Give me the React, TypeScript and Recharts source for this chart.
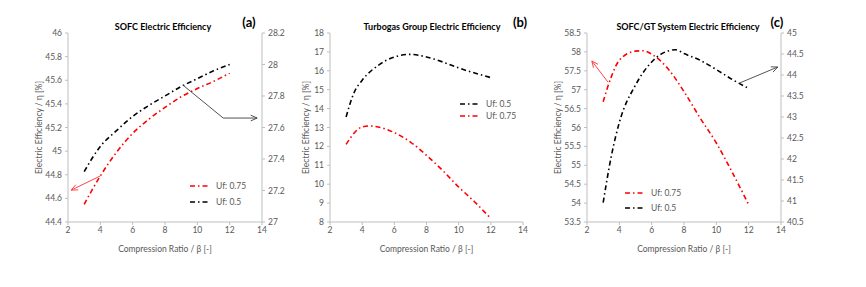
import React from "react";
import { LineChart, Line, XAxis, YAxis, ReferenceLine, Legend } from "recharts";

// compression ratio ticks shared by the three panels
const betaTicks = [2, 4, 6, 8, 10, 12, 14];

// (a) SOFC electric efficiency
const sofcBeta = [3, 4, 5, 6, 7, 8, 9, 10, 11, 12];
const sofcUf075 = [44.55, 44.79, 44.99, 45.15, 45.27, 45.37, 45.46, 45.53, 45.59, 45.66];
const sofcUf05 = [27.32, 27.48, 27.58, 27.67, 27.74, 27.8, 27.86, 27.91, 27.96, 28.0];
const sofcLeftTicks = [44.4, 44.6, 44.8, 45, 45.2, 45.4, 45.6, 45.8, 46];
const sofcRightTicks = [27, 27.2, 27.4, 27.6, 27.8, 28, 28.2];

// (b) turbogas group electric efficiency
const tgBeta05 = [3, 3.5, 4, 5, 6, 7, 8, 9, 10, 11, 12];
const tgUf05 = [13.56, 14.85, 15.5, 16.29, 16.73, 16.87, 16.73, 16.47, 16.15, 15.88, 15.64];
const tgBeta075 = [3, 4, 4.5, 5, 6, 7, 8, 9, 10, 11, 12];
const tgUf075 = [12.11, 13.03, 13.08, 13.03, 12.73, 12.23, 11.53, 10.73, 9.85, 9.06, 8.18];
const tgTicks = [8, 9, 10, 11, 12, 13, 14, 15, 16, 17, 18];

// (c) SOFC/GT system electric efficiency
const sysBeta075 = [3, 3.5, 4, 5, 5.5, 6, 7, 8, 9, 10, 11, 12];
const sysUf075 = [56.68, 57.34, 57.78, 58.02, 58.03, 57.94, 57.56, 56.95, 56.25, 55.59, 54.8, 53.96];
const sysBeta05 = [3, 3.5, 4, 5, 6, 7, 7.5, 8, 9, 10, 11, 12];
const sysUf05 = [40.96, 42.06, 42.87, 43.76, 44.31, 44.57, 44.6, 44.51, 44.35, 44.13, 43.89, 43.68];
const sysLeftTicks = [53.5, 54, 54.5, 55, 55.5, 56, 56.5, 57, 57.5, 58, 58.5];
const sysRightTicks = [40.5, 41, 41.5, 42, 42.5, 43, 43.5, 44, 44.5, 45];

const RED = "#ff0000";
const BLACK = "#000000";
const GREY = "#595959";
const AXIS = "#bfbfbf";
const DASH = "5 3 1.5 3";
const FONT = "Lato, 'Open Sans', sans-serif";

const rows = (beta: number[], vals: number[]) =>
  beta.map((b, i) => ({ beta: b, eta: vals[i] }));

const fmt = (v: number) => String(Math.round(v * 10) / 10);

const tickStyle = { fontSize: 8.5, fill: GREY };

const xAxisProps = {
  type: "number" as const,
  dataKey: "beta",
  domain: [2, 14],
  ticks: betaTicks,
  interval: 0 as const,
  height: 30,
  tick: tickStyle,
  tickSize: 3,
  tickMargin: 2,
  stroke: AXIS,
  label: {
    value: "Compression Ratio / β [-]",
    position: "insideBottom" as const,
    offset: 0,
    fontSize: 8.5,
    fill: GREY,
  },
};

const yLabel = (x: number) => (props: any) => {
  const vb = props.viewBox || {};
  const cy = vb.height ? vb.y + vb.height / 2 : 127.5;
  return (
    <text
      x={x}
      y={cy}
      transform={`rotate(-90 ${x} ${cy})`}
      textAnchor="middle"
      dominantBaseline="central"
      fontSize={8.5}
      fill={GREY}
    >
      Electric Efficiency / η [%]
    </text>
  );
};

// annotation arrow drawn between the two scaled ends of a segment
const arrow = (color: string, head: boolean) => (p: any) => {
  const { x1, y1, x2, y2 } = p;
  const a = Math.atan2(y2 - y1, x2 - x1);
  const l = 7;
  const s = 0.42;
  const h1 = `${x2 - l * Math.cos(a - s)},${y2 - l * Math.sin(a - s)}`;
  const h2 = `${x2 - l * Math.cos(a + s)},${y2 - l * Math.sin(a + s)}`;
  return (
    <g>
      <line x1={x1} y1={y1} x2={x2} y2={y2} stroke={color} strokeWidth={0.9} />
      {head && (
        <polyline points={`${h1} ${x2},${y2} ${h2}`} fill="none" stroke={color} strokeWidth={0.9} />
      )}
    </g>
  );
};

const legend = (items: { name: string; color: string }[], gap: number) => () => (
  <div style={{ display: "flex", flexDirection: "column", gap }}>
    {items.map((it) => (
      <div key={it.name} style={{ display: "flex", alignItems: "center", height: 10 }}>
        <svg width={21} height={4}>
          <line x1={0} y1={2} x2={20} y2={2} stroke={it.color} strokeWidth={1.6} strokeDasharray={DASH} />
        </svg>
        <span style={{ marginLeft: 5, fontSize: 8.5, color: GREY, lineHeight: "10px" }}>{it.name}</span>
      </div>
    ))}
  </div>
);

const Text = ({ x, y, size, children }: { x: number; y: number; size: number; children: React.ReactNode }) => (
  <div
    style={{
      position: "absolute",
      left: x,
      top: y,
      transform: "translate(-50%, -50%)",
      fontSize: size,
      fontWeight: 700,
      whiteSpace: "nowrap",
      color: "#000",
    }}
  >
    {children}
  </div>
);

export default function App() {
  return (
    <div
      style={{
        position: "absolute",
        left: 0,
        top: 0,
        width: 866,
        height: 287,
        background: "#fff",
        fontFamily: FONT,
        overflow: "hidden",
      }}
    >
      {/* (a) */}
      <div style={{ position: "absolute", left: 0, top: 0 }}>
        <LineChart width={290} height={287} margin={{ top: 33, right: 0, bottom: 35, left: 8 }}>
          <XAxis {...xAxisProps} />
          <YAxis
            yAxisId="left"
            domain={[44.4, 46]}
            ticks={sofcLeftTicks}
            interval={0}
            width={60}
            tick={tickStyle}
            tickSize={3}
            tickMargin={3}
            tickFormatter={fmt}
            stroke={AXIS}
            label={{ content: yLabel(39) }}
          />
          <YAxis
            yAxisId="right"
            orientation="right"
            domain={[27, 28.2]}
            ticks={sofcRightTicks}
            interval={0}
            width={28}
            tick={tickStyle}
            tickSize={3}
            tickMargin={3}
            tickFormatter={fmt}
            stroke={AXIS}
          />
          <Line yAxisId="left" data={rows(sofcBeta, sofcUf075)} dataKey="eta" name="Uf: 0.75" type="monotone"
            stroke={RED} strokeWidth={1.6} strokeDasharray={DASH} dot={false} isAnimationActive={false} />
          <Line yAxisId="right" data={rows(sofcBeta, sofcUf05)} dataKey="eta" name="Uf: 0.5" type="monotone"
            stroke={BLACK} strokeWidth={1.6} strokeDasharray={DASH} dot={false} isAnimationActive={false} />
          <ReferenceLine yAxisId="left" ifOverflow="visible" segment={[{ x: 4, y: 44.79 }, { x: 2.2, y: 44.67 }]} shape={arrow("#ff3030", true)} />
          <ReferenceLine yAxisId="left" ifOverflow="visible" segment={[{ x: 9.1, y: 45.56 }, { x: 11.6, y: 45.28 }]} shape={arrow("#404040", false)} />
          <ReferenceLine yAxisId="left" ifOverflow="visible" segment={[{ x: 11.6, y: 45.28 }, { x: 13.7, y: 45.28 }]} shape={arrow("#404040", true)} />
          <Legend layout="vertical" align="center" verticalAlign="middle"
            wrapperStyle={{ left: 190, top: 181, width: "auto", height: "auto" }}
            content={legend([{ name: "Uf: 0.75", color: RED }, { name: "Uf: 0.5", color: BLACK }], 6)} />
        </LineChart>
      </div>

      {/* (b) */}
      <div style={{ position: "absolute", left: 290, top: 0 }}>
        <LineChart width={290} height={287} margin={{ top: 33, right: 57, bottom: 35, left: 8 }}>
          <XAxis {...xAxisProps} />
          <YAxis
            domain={[8, 18]}
            ticks={tgTicks}
            interval={0}
            width={32}
            tick={tickStyle}
            tickSize={3}
            tickMargin={3}
            tickFormatter={fmt}
            stroke={AXIS}
            label={{ content: yLabel(16) }}
          />
          <Line data={rows(tgBeta05, tgUf05)} dataKey="eta" name="Uf: 0.5" type="monotone"
            stroke={BLACK} strokeWidth={1.6} strokeDasharray={DASH} dot={false} isAnimationActive={false} />
          <Line data={rows(tgBeta075, tgUf075)} dataKey="eta" name="Uf: 0.75" type="monotone"
            stroke={RED} strokeWidth={1.6} strokeDasharray={DASH} dot={false} isAnimationActive={false} />
          <Legend layout="vertical" align="center" verticalAlign="middle"
            wrapperStyle={{ left: 170, top: 99, width: "auto", height: "auto" }}
            content={legend([{ name: "Uf: 0.5", color: BLACK }, { name: "Uf: 0.75", color: RED }], 2)} />
        </LineChart>
      </div>

      {/* (c) */}
      <div style={{ position: "absolute", left: 540, top: 0 }}>
        <LineChart width={326} height={287} margin={{ top: 33, right: 57, bottom: 35, left: 4 }}>
          <XAxis {...xAxisProps} />
          <YAxis
            yAxisId="left"
            domain={[53.5, 58.5]}
            ticks={sysLeftTicks}
            interval={0}
            width={43}
            tick={tickStyle}
            tickSize={3}
            tickMargin={3}
            tickFormatter={fmt}
            stroke={AXIS}
            label={{ content: yLabel(18) }}
          />
          <YAxis
            yAxisId="right"
            orientation="right"
            domain={[40.5, 45]}
            ticks={sysRightTicks}
            interval={0}
            width={28}
            tick={tickStyle}
            tickSize={3}
            tickMargin={3}
            tickFormatter={fmt}
            stroke={AXIS}
          />
          <Line yAxisId="left" data={rows(sysBeta075, sysUf075)} dataKey="eta" name="Uf: 0.75" type="monotone"
            stroke={RED} strokeWidth={1.6} strokeDasharray={DASH} dot={false} isAnimationActive={false} />
          <Line yAxisId="right" data={rows(sysBeta05, sysUf05)} dataKey="eta" name="Uf: 0.5" type="monotone"
            stroke={BLACK} strokeWidth={1.6} strokeDasharray={DASH} dot={false} isAnimationActive={false} />
          <ReferenceLine yAxisId="left" ifOverflow="visible" segment={[{ x: 3.3, y: 57.2 }, { x: 2.3, y: 57.76 }]} shape={arrow("#ff3030", true)} />
          <ReferenceLine yAxisId="left" ifOverflow="visible" segment={[{ x: 11.4, y: 57.17 }, { x: 13.8, y: 57.6 }]} shape={arrow("#404040", true)} />
          <Legend layout="vertical" align="center" verticalAlign="middle"
            wrapperStyle={{ left: 85, top: 188, width: "auto", height: "auto" }}
            content={legend([{ name: "Uf: 0.75", color: RED }, { name: "Uf: 0.5", color: BLACK }], 5)} />
        </LineChart>
      </div>

      <Text x={163} y={26} size={9}>SOFC Electric Efficiency</Text>
      <Text x={249} y={22} size={13}>(a)</Text>
      <Text x={432} y={26} size={9}>Turbogas Group Electric Efficiency</Text>
      <Text x={520} y={22} size={13}>(b)</Text>
      <Text x={688} y={26} size={9}>SOFC/GT System Electric Efficiency</Text>
      <Text x={777} y={22} size={13}>(c)</Text>
    </div>
  );
}
